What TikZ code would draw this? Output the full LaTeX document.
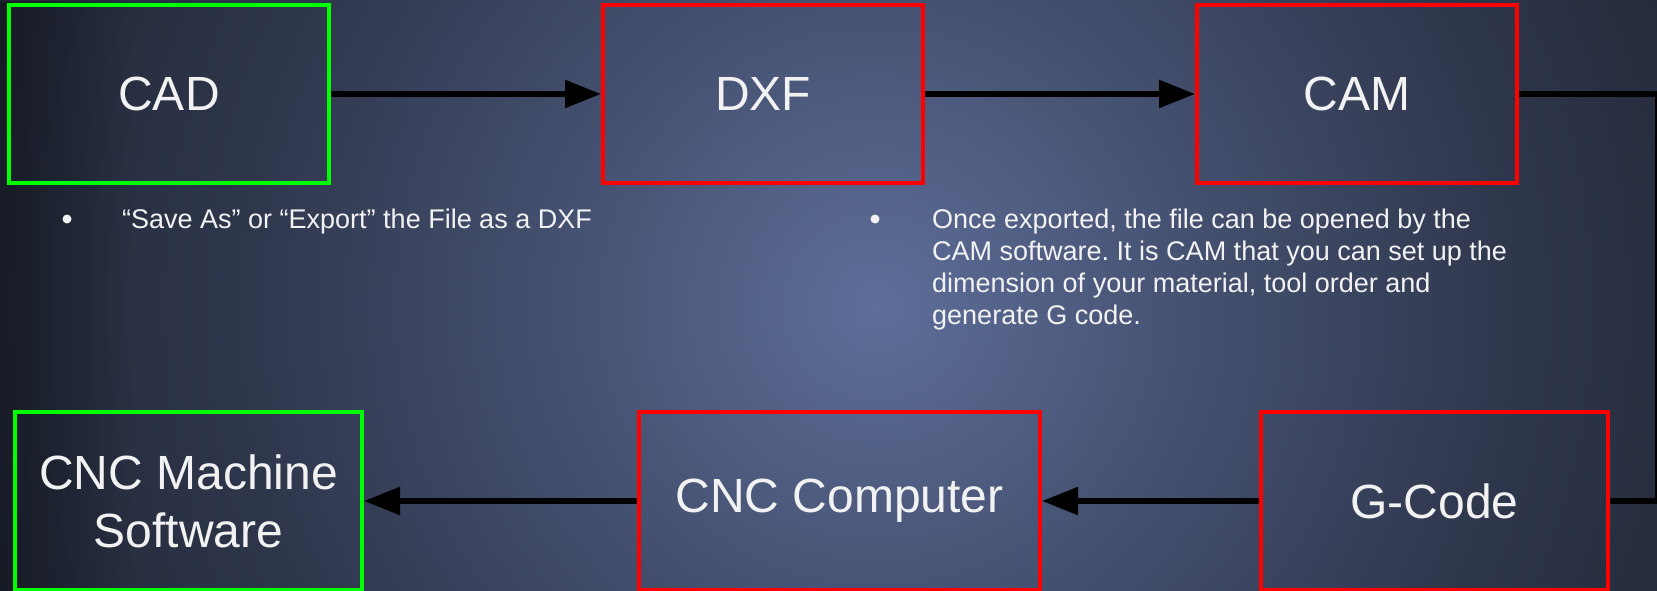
\documentclass[tikz,border=0pt]{standalone}
\usepackage{fontspec}
\setmainfont{Liberation Sans}
\usetikzlibrary{arrows.meta, positioning, fadings}

\definecolor{bgcentre}{RGB}{94,110,153}
\definecolor{bgmid}{RGB}{70,82,114}
\definecolor{bgouter}{RGB}{46,54,75}
\definecolor{bgedge}{RGB}{28,32,44}
\definecolor{bgdark}{RGB}{16,19,27}
\definecolor{stepred}{RGB}{255,0,0}
\definecolor{endgreen}{RGB}{0,255,0}
\definecolor{labeltext}{RGB}{242,242,242}

\pgfdeclareradialshading{slidebg}{\pgfpoint{0bp}{0bp}}{color(0bp)=(bgcentre); color(8bp)=(bgmid); color(17bp)=(bgouter); color(28bp)=(bgedge); color(50bp)=(bgedge)}
\tikzfading[name=fade right, left color=transparent!0, right color=transparent!100]

\tikzset{
  stepbox/.style={draw=stepred, line width=4pt, minimum width=320pt, minimum height=178pt,
    text=labeltext, align=center, font=\fontsize{48}{58}\selectfont},
  startbox/.style={stepbox, draw=endgreen},
  flow/.style={line width=5.5pt, draw=black},
  dot/.style={circle, fill=labeltext, inner sep=0pt, minimum size=9pt},
  note/.style={text=labeltext, inner sep=0pt, align=left, font=\fontsize{27}{32}\selectfont\frenchspacing}
}

\begin{document}
\begin{tikzpicture}[x=1pt, y=-1pt, >={Triangle[length=36pt,width=27pt]}, node distance=594pt]
\useasboundingbox (0,0) rectangle (1657,591);
% background of the slide
\begin{scope}
  \clip (0,0) rectangle (1657,591);
  \shade[shading=slidebg] (-73,-644) rectangle (1827,1256);
  \fill[bgdark, path fading=fade right, opacity=0.6] (0,0) rectangle (130,591);
\end{scope}

% define the steps
  \node[startbox] (cad) at (169,94) {CAD};
  \node[stepbox, right of=cad] (dxf) {DXF};
  \node[stepbox, right of=dxf] (cam) {CAM};
  \node[stepbox, minimum width=347pt] (gcode) at (1434.5,501) {G-Code};
  \node[stepbox, minimum width=401pt] (cnccomp) at (839.5,501) {CNC Computer};
  \node[startbox, minimum width=347pt] (cncsoft) at (188.5,501) {CNC Machine\\Software};
  \coordinate (rimtop) at (1658,94);

% notes under the first row
  \node[dot] (dot1) at (67,219) {};
  \node[note, anchor=base west] (note1) at (122,228) {“Save As” or “Export” the File as a DXF};
  \node[dot] (dot2) at (875,219) {};
  \node[note, anchor=north west] (note2) at (932,209) {Once exported, the file can be opened by the\\CAM software. It is CAM that you can set up the\\dimension of your material, tool order and\\generate G code.};

% define the links
  \draw[flow, ->] (cad) -- (dxf);
  \draw[flow, ->] (dxf) -- (cam);
  \draw[flow] (cam.east) -- (rimtop) |- (gcode.east);
  \draw[flow, ->] (gcode) -- (cnccomp);
  \draw[flow, ->] (cnccomp) -- (cncsoft);
\end{tikzpicture}
\end{document}
